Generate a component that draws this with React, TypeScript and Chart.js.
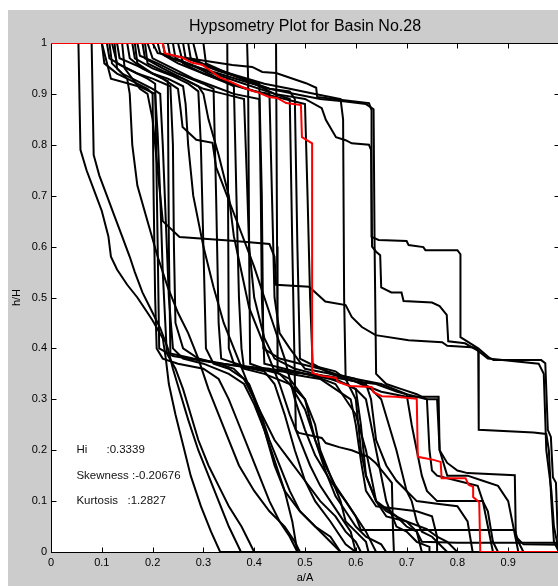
import { useEffect, useRef } from "react";
import { Chart, registerables } from "chart.js";

Chart.register(...registerables);

// Hypsometric curves: [a/A, h/H] pairs for each basin
const basin28 = [[0,1],[0.22,1],[0.224,0.98],[0.259,0.971],[0.278,0.961],[0.298,0.957],[0.312,0.947],[0.331,0.933],[0.355,0.923],[0.375,0.914],[0.39,0.908],[0.41,0.902],[0.429,0.894],[0.445,0.892],[0.463,0.882],[0.492,0.878],[0.494,0.815],[0.514,0.803],[0.514,0.352],[0.533,0.346],[0.561,0.342],[0.565,0.334],[0.588,0.326],[0.631,0.324],[0.635,0.314],[0.651,0.306],[0.678,0.305],[0.72,0.301],[0.722,0.187],[0.753,0.181],[0.767,0.177],[0.769,0.145],[0.816,0.145],[0.822,0.132],[0.831,0.128],[0.831,0.108],[0.843,0.098],[0.845,0],[1,0]];

const basin01 = [[0,1],[0.054,1],[0.058,0.79],[0.07,0.75],[0.085,0.71],[0.1,0.67],[0.113,0.62],[0.118,0.58],[0.13,0.555],[0.15,0.525],[0.17,0.5],[0.19,0.47],[0.2,0.455],[0.22,0.42],[0.226,0.38],[0.232,0.33],[0.245,0.27],[0.26,0.21],[0.275,0.15],[0.295,0.09],[0.315,0.04],[0.333,0],[1,0]];
const basin02 = [[0,1],[0.08,1],[0.084,0.78],[0.095,0.74],[0.11,0.7],[0.125,0.66],[0.14,0.62],[0.155,0.58],[0.165,0.55],[0.18,0.51],[0.2,0.47],[0.215,0.44],[0.23,0.4],[0.24,0.36],[0.255,0.31],[0.27,0.26],[0.29,0.2],[0.31,0.15],[0.33,0.1],[0.35,0.05],[0.374,0],[1,0]];
const basin03 = [[0,1],[0.1,1],[0.118,0.93],[0.175,0.914],[0.205,0.9],[0.21,0.82],[0.215,0.7],[0.22,0.55],[0.225,0.45],[0.228,0.39],[0.245,0.36],[0.26,0.32],[0.275,0.27],[0.29,0.22],[0.31,0.17],[0.33,0.13],[0.35,0.09],[0.375,0.05],[0.39,0.02],[0.4,0],[1,0]];
const basin04 = [[0,1],[0.115,1],[0.12,0.96],[0.14,0.94],[0.17,0.925],[0.2,0.91],[0.215,0.9],[0.22,0.8],[0.226,0.65],[0.232,0.5],[0.24,0.4],[0.26,0.38],[0.3,0.37],[0.35,0.35],[0.38,0.33],[0.4,0.29],[0.42,0.24],[0.44,0.18],[0.46,0.12],[0.475,0.06],[0.485,0],[1,0]];
const basin05 = [[0,1],[0.12,1],[0.13,0.96],[0.16,0.945],[0.19,0.93],[0.205,0.92],[0.21,0.6],[0.213,0.4],[0.24,0.385],[0.3,0.375],[0.37,0.365],[0.42,0.355],[0.44,0.33],[0.46,0.27],[0.48,0.2],[0.5,0.14],[0.52,0.1],[0.55,0.06],[0.57,0.03],[0.58,0.015],[0.6,0],[1,0]];
const basin06 = [[0,1],[0.13,1],[0.135,0.97],[0.17,0.955],[0.2,0.94],[0.23,0.925],[0.232,0.6],[0.235,0.39],[0.28,0.38],[0.34,0.37],[0.41,0.36],[0.45,0.35],[0.47,0.33],[0.5,0.28],[0.52,0.22],[0.54,0.16],[0.56,0.11],[0.58,0.08],[0.6,0.05],[0.62,0.03],[0.65,0.015],[0.66,0],[1,0]];
const basin07 = [[0,1],[0.347,1],[0.35,0.4],[0.36,0.37],[0.4,0.36],[0.45,0.355],[0.5,0.35],[0.55,0.34],[0.58,0.33],[0.6,0.32],[0.62,0.3],[0.64,0.2],[0.66,0.1],[0.68,0.05],[0.7,0.04],[0.72,0.02],[0.745,0.01],[0.745,0],[1,0]];
const basin08 = [[0,1],[0.386,1],[0.388,0.93],[0.39,0.6],[0.392,0.37],[0.42,0.36],[0.48,0.355],[0.52,0.345],[0.56,0.33],[0.6,0.27],[0.62,0.2],[0.63,0.15],[0.64,0.1],[0.66,0.07],[0.7,0.06],[0.74,0.045],[0.76,0.03],[0.78,0.02],[0.8,0],[1,0]];
const basin09 = [[0,1],[0.443,1],[0.445,0.6],[0.446,0.36],[0.47,0.35],[0.5,0.345],[0.53,0.34],[0.56,0.32],[0.59,0.3],[0.6,0.25],[0.61,0.18],[0.62,0.12],[0.64,0.09],[0.68,0.085],[0.72,0.08],[0.75,0.07],[0.76,0.03],[0.76,0],[1,0]];
const basin10 = [[0,1],[0.16,1],[0.165,0.97],[0.2,0.95],[0.24,0.935],[0.27,0.92],[0.29,0.905],[0.295,0.8],[0.3,0.6],[0.305,0.4],[0.32,0.37],[0.35,0.36],[0.38,0.34],[0.4,0.3],[0.42,0.24],[0.44,0.17],[0.46,0.12],[0.49,0.08],[0.52,0.05],[0.55,0.03],[0.57,0],[1,0]];
const basin11 = [[0,1],[0.17,1],[0.175,0.975],[0.21,0.96],[0.25,0.94],[0.3,0.92],[0.32,0.91],[0.325,0.7],[0.33,0.45],[0.335,0.38],[0.38,0.365],[0.43,0.36],[0.47,0.34],[0.5,0.3],[0.52,0.25],[0.53,0.2],[0.55,0.15],[0.57,0.1],[0.58,0.06],[0.6,0.04],[0.62,0.02],[0.625,0],[1,0]];
const basin12 = [[0,1],[0.18,1],[0.185,0.97],[0.22,0.95],[0.26,0.93],[0.3,0.91],[0.34,0.9],[0.38,0.89],[0.385,0.75],[0.39,0.6],[0.4,0.5],[0.42,0.42],[0.44,0.38],[0.48,0.36],[0.52,0.35],[0.56,0.34],[0.6,0.32],[0.61,0.25],[0.62,0.15],[0.64,0.1],[0.68,0.07],[0.7,0.05],[0.72,0.04],[0.73,0],[1,0]];
const basin13 = [[0,1],[0.19,1],[0.2,0.97],[0.24,0.95],[0.28,0.93],[0.32,0.915],[0.36,0.9],[0.41,0.89],[0.413,0.7],[0.415,0.5],[0.42,0.37],[0.46,0.36],[0.5,0.35],[0.55,0.345],[0.6,0.335],[0.63,0.32],[0.65,0.3],[0.68,0.2],[0.7,0.12],[0.72,0.1],[0.76,0.095],[0.8,0.09],[0.82,0.06],[0.83,0],[1,0]];
const basin14 = [[0,1],[0.21,1],[0.215,0.98],[0.25,0.96],[0.3,0.94],[0.35,0.92],[0.4,0.905],[0.43,0.9],[0.435,0.7],[0.44,0.5],[0.45,0.43],[0.47,0.4],[0.5,0.36],[0.55,0.35],[0.6,0.34],[0.65,0.33],[0.7,0.31],[0.74,0.3],[0.76,0.3],[0.765,0.2],[0.78,0.15],[0.82,0.15],[0.85,0.14],[0.88,0.13],[0.9,0.1],[0.91,0.05],[0.92,0],[1,0]];
const basin15 = [[0,1],[0.2,1],[0.21,0.98],[0.27,0.97],[0.357,0.957],[0.396,0.953],[0.416,0.943],[0.443,0.941],[0.502,0.921],[0.522,0.912],[0.524,0.894],[0.573,0.888],[0.626,0.882],[0.631,0.868],[0.631,0.619],[0.645,0.613],[0.7,0.611],[0.704,0.603],[0.733,0.599],[0.737,0.593],[0.8,0.593],[0.806,0.585],[0.806,0.422],[0.841,0.4],[0.861,0.383],[0.871,0.377],[0.965,0.377],[0.973,0.371],[0.978,0.24],[0.984,0.226],[0.988,0.147],[0.994,0.136],[0.997,0.05],[1,0]];
const basin16 = [[0,1],[0.22,1],[0.225,0.975],[0.27,0.96],[0.32,0.94],[0.38,0.92],[0.44,0.9],[0.5,0.89],[0.533,0.872],[0.541,0.849],[0.561,0.815],[0.58,0.809],[0.592,0.803],[0.626,0.8],[0.63,0.79],[0.632,0.6],[0.64,0.59],[0.648,0.583],[0.65,0.52],[0.67,0.51],[0.69,0.51],[0.694,0.493],[0.75,0.49],[0.765,0.483],[0.779,0.466],[0.782,0.414],[0.815,0.41],[0.841,0.395],[0.86,0.38],[0.96,0.37],[0.97,0.35],[0.975,0.2],[0.985,0.12],[0.99,0.05],[1,0]];
const basin17 = [[0,1],[0.14,1],[0.145,0.95],[0.16,0.93],[0.175,0.91],[0.19,0.9],[0.2,0.85],[0.21,0.75],[0.22,0.65],[0.253,0.619],[0.35,0.612],[0.43,0.605],[0.44,0.58],[0.443,0.525],[0.508,0.521],[0.54,0.492],[0.58,0.485],[0.592,0.462],[0.612,0.442],[0.639,0.426],[0.704,0.416],[0.77,0.412],[0.78,0.405],[0.835,0.402],[0.841,0.395],[0.842,0.24],[0.95,0.235],[0.975,0.232],[0.98,0.2],[0.985,0.1],[0.99,0.02],[1,0]];
const basin18 = [[0,1],[0.24,1],[0.245,0.97],[0.29,0.95],[0.33,0.93],[0.37,0.915],[0.42,0.9],[0.46,0.89],[0.5,0.88],[0.505,0.7],[0.51,0.5],[0.515,0.37],[0.55,0.35],[0.6,0.335],[0.65,0.315],[0.7,0.305],[0.763,0.305],[0.765,0.2],[0.78,0.175],[0.8,0.16],[0.82,0.155],[0.913,0.151],[0.915,0.03],[0.93,0.015],[1,0.014],[1,0]];
const basin19 = [[0,1],[0.25,1],[0.26,0.96],[0.3,0.94],[0.34,0.925],[0.36,0.915],[0.365,0.7],[0.37,0.5],[0.375,0.4],[0.38,0.36],[0.42,0.35],[0.47,0.33],[0.5,0.3],[0.52,0.22],[0.54,0.17],[0.56,0.13],[0.58,0.1],[0.6,0.07],[0.61,0.043],[0.913,0.043],[0.92,0.02],[0.93,0],[1,0]];
const basin20 = [[0,1],[0.26,1],[0.265,0.97],[0.31,0.955],[0.35,0.94],[0.39,0.925],[0.43,0.91],[0.47,0.905],[0.48,0.89],[0.485,0.6],[0.49,0.38],[0.52,0.365],[0.56,0.355],[0.58,0.34],[0.6,0.3],[0.61,0.2],[0.62,0.15],[0.64,0.1],[0.66,0.08],[0.7,0.06],[0.72,0.04],[0.73,0.02],[0.8,0.018],[1,0.018],[1,0]];
const basin21 = [[0,1],[0.27,1],[0.275,0.97],[0.32,0.95],[0.37,0.935],[0.42,0.92],[0.47,0.91],[0.52,0.9],[0.57,0.89],[0.575,0.85],[0.577,0.5],[0.58,0.34],[0.6,0.335],[0.64,0.33],[0.68,0.315],[0.7,0.31],[0.71,0.25],[0.72,0.2],[0.73,0.15],[0.74,0.12],[0.76,0.1],[0.8,0.1],[0.85,0.1],[0.86,0.05],[0.87,0],[1,0]];
const basin22 = [[0,1],[0.1,1],[0.105,0.96],[0.13,0.94],[0.16,0.925],[0.19,0.91],[0.2,0.9],[0.202,0.7],[0.205,0.5],[0.208,0.4],[0.22,0.38],[0.25,0.37],[0.3,0.36],[0.33,0.34],[0.35,0.3],[0.37,0.25],[0.39,0.2],[0.41,0.15],[0.43,0.1],[0.45,0.06],[0.47,0.03],[0.485,0],[1,0]];
const basin23 = [[0,1],[0.11,1],[0.115,0.97],[0.14,0.955],[0.17,0.94],[0.2,0.93],[0.235,0.915],[0.24,0.8],[0.242,0.6],[0.245,0.45],[0.26,0.4],[0.29,0.38],[0.33,0.37],[0.36,0.36],[0.39,0.33],[0.41,0.28],[0.43,0.22],[0.45,0.17],[0.47,0.12],[0.49,0.08],[0.52,0.05],[0.55,0.02],[0.57,0],[1,0]];
const basin24 = [[0,1],[0.15,1],[0.155,0.97],[0.18,0.95],[0.22,0.93],[0.25,0.91],[0.255,0.87],[0.259,0.835],[0.286,0.81],[0.318,0.804],[0.325,0.756],[0.37,0.639],[0.4,0.56],[0.42,0.5],[0.44,0.44],[0.46,0.38],[0.48,0.3],[0.5,0.24],[0.52,0.19],[0.55,0.14],[0.58,0.1],[0.6,0.07],[0.62,0.04],[0.64,0],[1,0]];
const basin25 = [[0,1],[0.165,1],[0.17,0.96],[0.2,0.94],[0.23,0.93],[0.26,0.915],[0.265,0.88],[0.27,0.8],[0.28,0.7],[0.3,0.6],[0.32,0.52],[0.34,0.45],[0.36,0.4],[0.38,0.35],[0.4,0.3],[0.42,0.26],[0.44,0.22],[0.47,0.18],[0.5,0.14],[0.53,0.1],[0.56,0.07],[0.58,0.04],[0.6,0.02],[0.61,0],[1,0]];
const basin26 = [[0,1],[0.23,1],[0.235,0.97],[0.28,0.955],[0.33,0.94],[0.38,0.925],[0.43,0.91],[0.48,0.9],[0.53,0.89],[0.58,0.885],[0.62,0.88],[0.635,0.87],[0.637,0.6],[0.64,0.35],[0.66,0.33],[0.69,0.32],[0.72,0.31],[0.74,0.3],[0.745,0.2],[0.75,0.16],[0.76,0.15],[0.8,0.14],[0.84,0.13],[0.85,0.1],[0.86,0.08],[0.87,0.02],[0.88,0],[1,0]];
const basin27 = [[0,1],[0.28,1],[0.29,0.96],[0.33,0.945],[0.38,0.93],[0.41,0.92],[0.415,0.7],[0.418,0.4],[0.45,0.38],[0.49,0.37],[0.53,0.36],[0.56,0.35],[0.6,0.34],[0.62,0.33],[0.63,0.3],[0.64,0.22],[0.66,0.17],[0.68,0.14],[0.7,0.12],[0.71,0.1],[0.72,0.06],[0.73,0.04],[0.75,0.03],[0.78,0],[1,0]];
const basin29 = [[0,1],[0.185,1],[0.19,0.96],[0.22,0.945],[0.26,0.93],[0.29,0.915],[0.3,0.9],[0.31,0.85],[0.33,0.78],[0.35,0.7],[0.36,0.62],[0.375,0.55],[0.39,0.48],[0.41,0.43],[0.43,0.38],[0.45,0.33],[0.47,0.27],[0.49,0.22],[0.51,0.17],[0.53,0.13],[0.55,0.1],[0.57,0.07],[0.59,0.04],[0.6,0],[1,0]];
const basin30 = [[0,1],[0.3,1],[0.305,0.96],[0.35,0.94],[0.4,0.92],[0.44,0.9],[0.47,0.89],[0.475,0.6],[0.48,0.34],[0.482,0.24],[0.488,0.234],[0.533,0.224],[0.541,0.214],[0.567,0.206],[0.592,0.2],[0.625,0.187],[0.639,0.175],[0.671,0.136],[0.673,0.05],[0.675,0],[1,0]];
const basin31 = [[0,1],[0.125,1],[0.13,0.95],[0.15,0.93],[0.155,0.9],[0.16,0.8],[0.17,0.72],[0.19,0.65],[0.21,0.58],[0.23,0.52],[0.25,0.47],[0.27,0.43],[0.29,0.38],[0.31,0.32],[0.33,0.27],[0.35,0.22],[0.37,0.17],[0.4,0.12],[0.43,0.08],[0.46,0.05],[0.48,0.02],[0.49,0],[1,0]];

const blackBasins = [basin01, basin02, basin03, basin04, basin05, basin06, basin07, basin08, basin09, basin10, basin11, basin12, basin13, basin14, basin15, basin16, basin17, basin18, basin19, basin20, basin21, basin22, basin23, basin24, basin25, basin26, basin27, basin29, basin30, basin31];

const tickValues = [0, 0.1, 0.2, 0.3, 0.4, 0.5, 0.6, 0.7, 0.8, 0.9, 1];
const statLabels = ["Hi      :0.3339", "Skewness :-0.20676", "Kurtosis   :1.2827"];
const statX = 0.05;
const statY = [0.2, 0.15, 0.1];

const FAMILY = '"Liberation Sans", Arial, Helvetica, sans-serif';

const fmt = (v: number) => {
  const r = Math.round(v * 10) / 10;
  return r === 0 ? "0" : r === 1 ? "1" : String(r);
};

export default function App() {
  const ref = useRef<HTMLCanvasElement>(null);
  useEffect(() => {
    if (!ref.current) return;
    const framePlugin = {
      id: "frame",
      beforeDraw(chart: any) {
        const { ctx, chartArea: a } = chart;
        ctx.save();
        ctx.fillStyle = "#cccccc";
        ctx.fillRect(0, 0, chart.width, chart.height);
        ctx.fillStyle = "#ffffff";
        ctx.fillRect(a.left, a.top, a.right - a.left, a.bottom - a.top);
        ctx.restore();
      },
      beforeDatasetsDraw(chart: any) {
        const { ctx, chartArea: a, scales } = chart;
        const xs = scales.x, ys = scales.y;
        const L = Math.round(a.left) + 0.5, R = Math.round(a.right) + 0.5;
        const T = Math.round(a.top) + 0.5, B = Math.round(a.bottom) + 0.5;
        ctx.save();
        ctx.strokeStyle = "#000";
        ctx.lineWidth = 1;
        ctx.strokeRect(L, T, R - L, B - T);
        ctx.beginPath();
        for (const v of tickValues) {
          const px = Math.round(xs.getPixelForValue(v)) + 0.5;
          ctx.moveTo(px, B); ctx.lineTo(px, B - 5);
          ctx.moveTo(px, T); ctx.lineTo(px, T + 5);
          const py = Math.round(ys.getPixelForValue(v)) + 0.5;
          ctx.moveTo(L, py); ctx.lineTo(L + 5, py);
          ctx.moveTo(R, py); ctx.lineTo(R - 5, py);
        }
        ctx.stroke();
        ctx.restore();
      },
      afterDatasetsDraw(chart: any) {
        const { ctx, scales } = chart;
        ctx.save();
        ctx.fillStyle = "#111";
        ctx.font = `11.5px ${FAMILY}`;
        ctx.textAlign = "left";
        ctx.textBaseline = "middle";
        statLabels.forEach((t, i) => {
          ctx.fillText(t, scales.x.getPixelForValue(statX), scales.y.getPixelForValue(statY[i]));
        });
        ctx.restore();
      },
    };

    const toPts = (arr: number[][]) => arr.map(([x, y]) => ({ x, y }));
    const datasets: any[] = [
      { data: toPts(basin28), borderColor: "#ff0000", borderWidth: 2, showLine: true, pointRadius: 0, tension: 0 },
      ...blackBasins.map((b) => ({ data: toPts(b), borderColor: "#000000", borderWidth: 2, showLine: true, pointRadius: 0, tension: 0 })),
    ];

    const chart = new Chart(ref.current, {
      type: "scatter",
      data: { datasets },
      options: {
        animation: false,
        responsive: false,
        devicePixelRatio: 1,
        layout: { padding: { left: 0, right: 9, top: 0, bottom: 0 } },
        plugins: {
          legend: { display: false },
          tooltip: { enabled: false },
          title: {
            display: true,
            text: "Hypsometry Plot for Basin No.28",
            fullSize: false,
            color: "#000",
            font: { size: 16, weight: "normal", family: FAMILY },
            padding: { top: 7, bottom: 6.8 },
          },
        },
        scales: {
          x: {
            type: "linear",
            min: 0,
            max: 1,
            afterFit: (s: any) => { s.height = 34; },
            grid: { display: false, drawTicks: false },
            border: { display: false },
            ticks: {
              stepSize: 0.1,
              padding: 4,
              color: "#000",
              maxRotation: 0,
              autoSkip: false,
              font: { size: 11, family: FAMILY },
              callback: (v: any) => (Math.round(v * 10) === 10 ? "" : fmt(v)),
            },
            title: { display: true, text: "a/A", color: "#000", font: { size: 11, family: FAMILY }, padding: { top: 0, bottom: 1.5 } },
          },
          y: {
            type: "linear",
            min: 0,
            max: 1,
            afterFit: (s: any) => { s.width = 43; },
            grid: { display: false, drawTicks: false },
            border: { display: false },
            ticks: {
              stepSize: 0.1,
              padding: 4,
              color: "#000",
              autoSkip: false,
              font: { size: 11, family: FAMILY },
              callback: (v: any) => fmt(v),
            },
            title: { display: true, text: "h/H", color: "#000", font: { size: 11, family: FAMILY }, padding: { top: 2.4, bottom: 0 } },
          },
        },
      },
      plugins: [framePlugin],
    } as any);
    return () => chart.destroy();
  }, []);

  return (
    <div style={{ position: "absolute", left: 8, top: 10, width: 550, height: 576, overflow: "hidden", background: "#cccccc" }}>
      <canvas ref={ref} width={560} height={576} style={{ display: "block" }} />
    </div>
  );
}
